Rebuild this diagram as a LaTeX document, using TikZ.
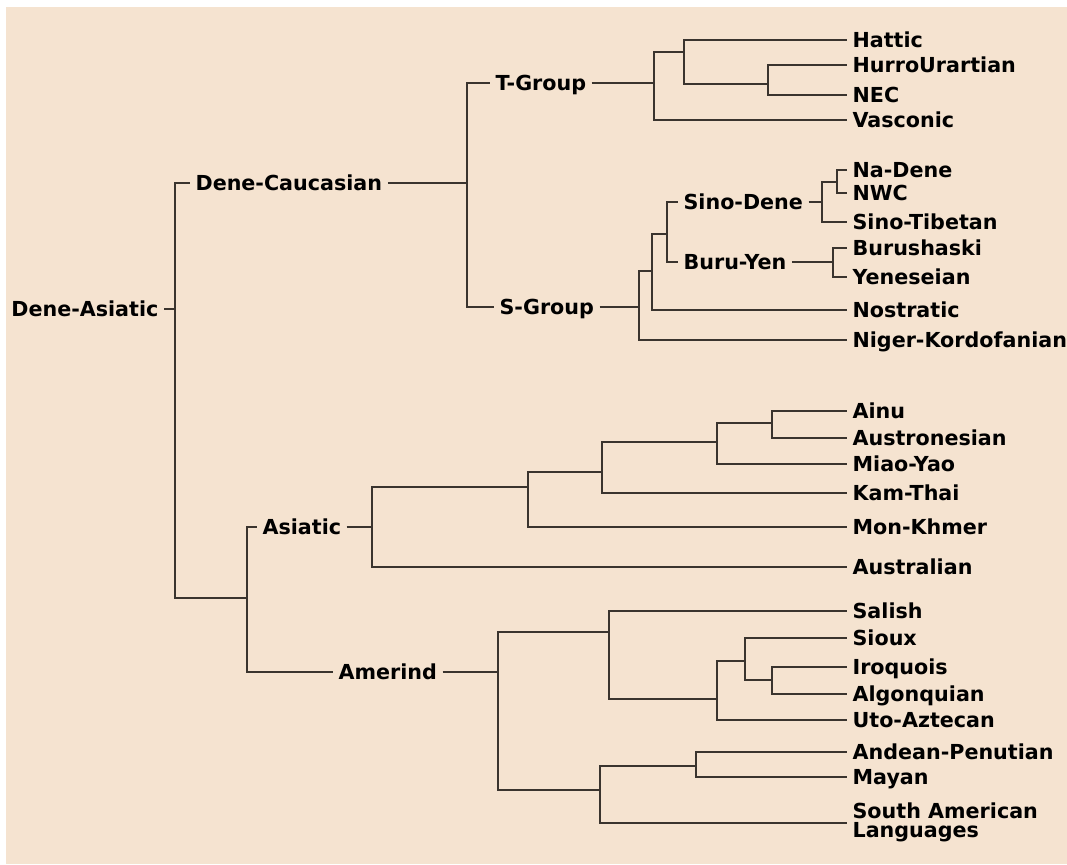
\documentclass[tikz,border=0pt]{standalone}
\usepackage{fontspec}
\setmainfont{DejaVu Sans}
\definecolor{paper}{RGB}{245,227,208}
\definecolor{ink}{RGB}{58,52,46}
\tikzset{
  namefont/.style={font=\bfseries\fontsize{15.5}{14.25}\selectfont},
  langname/.style={namefont, anchor=west, inner xsep=4pt, inner ysep=0pt, text height=11.3pt, text depth=0pt},
  twoline/.style={namefont, anchor=west, inner xsep=4pt, inner ysep=0pt, align=left},
  treeline/.style={draw=ink, line width=1.5pt}
}
\begin{document}
\begin{tikzpicture}[x=0.75pt, y=-0.75pt]
    \useasboundingbox (0,0) rectangle (1067,864);
    \fill[white] (0,0) rectangle (1067,864);
    \fill[paper] (6,7) rectangle (1067,864);

    % labelled groups and branch points
    \node[langname, anchor=east] (deneasiatic) at (164,309) {Dene-Asiatic};
    \coordinate (jroot) at (175,309);
    \node[langname] (denecauc) at (190,182.5) {Dene-Caucasian};
    \coordinate (jdc) at (467,182.5);
    \node[langname] (tgroup) at (490,83) {T-Group};
    \coordinate (jtg) at (654,83);
    \coordinate (jhat) at (684,51.5);
    \coordinate (jhu) at (768,83.5);
    \node[langname] (sgroup) at (494,307) {S-Group};
    \coordinate (jsg) at (639,307);
    \coordinate (jsd) at (652,270.5);
    \coordinate (jsb) at (667,234);
    \node[langname] (sinodene) at (678,202) {Sino-Dene};
    \coordinate (jsdn) at (822,202);
    \coordinate (jnn) at (836.5,181.5);
    \node[langname] (buruyen) at (678,262) {Buru-Yen};
    \coordinate (jby) at (833,262);
    \coordinate (jlow) at (247,598);
    \node[langname] (asiatic) at (257,526.5) {Asiatic};
    \coordinate (jas) at (372,526.5);
    \coordinate (jam) at (528,487);
    \coordinate (jkt) at (602,472);
    \coordinate (jmy) at (717,442);
    \coordinate (jai) at (772,423);
    \node[langname] (amerind) at (333,671.5) {Amerind};
    \coordinate (jamer) at (498,671.5);
    \coordinate (jup) at (609,631.5);
    \coordinate (jut) at (717,698.5);
    \coordinate (jsi) at (745,660.5);
    \coordinate (jia) at (772,680);
    \coordinate (jdn) at (600,789.5);
    \coordinate (jap) at (696,766);

    % languages
    \foreach \name/\y/\txt in {hattic/39.5/Hattic, hurro/64.5/HurroUrartian, nec/94.5/NEC, vasconic/120/Vasconic,
        nadene/169.5/Na-Dene, nwc/193/NWC, sinotib/221.5/Sino-Tibetan, burush/248/Burushaski,
        yenes/277/Yeneseian, nostratic/310/Nostratic, niger/340/Niger-Kordofanian,
        ainu/410.5/Ainu, austronesian/438/Austronesian, miaoyao/463.5/Miao-Yao, kamthai/493/Kam-Thai,
        monkhmer/527/Mon-Khmer, australian/566.5/Australian,
        salish/610.5/Salish, sioux/637.5/Sioux, iroquois/667/Iroquois, algonquian/694/Algonquian,
        utoaztecan/720/Uto-Aztecan, andean/751.5/Andean-Penutian, mayan/777/Mayan}
        \node[langname] (\name) at (847,\y) {\txt};
    \node[twoline] (southam) at (847,822.7) {South American\\Languages};

    % straight links through the group names
    \foreach \a/\b in {deneasiatic/jroot, denecauc/jdc, tgroup/jtg, sgroup/jsg, sinodene/jsdn,
        buruyen/jby, asiatic/jas, amerind/jamer}
        \draw[treeline] (\a.east) -- (\b);

    % elbow links
    \foreach \a/\b in {jroot/denecauc.west, jroot/jlow, jdc/tgroup.west, jdc/sgroup.west,
        jtg/jhat, jtg/vasconic.west, jhat/hattic.west, jhat/jhu, jhu/hurro.west, jhu/nec.west,
        jsg/jsd, jsg/niger.west, jsd/jsb, jsd/nostratic.west, jsb/sinodene.west, jsb/buruyen.west,
        jsdn/jnn, jsdn/sinotib.west, jnn/nadene.west, jnn/nwc.west, jby/burush.west, jby/yenes.west,
        jlow/asiatic.west, jlow/amerind.west, jas/jam, jas/australian.west, jam/jkt, jam/monkhmer.west,
        jkt/jmy, jkt/kamthai.west, jmy/jai, jmy/miaoyao.west, jai/ainu.west, jai/austronesian.west,
        jamer/jup, jamer/jdn, jup/salish.west, jup/jut, jut/jsi, jut/utoaztecan.west,
        jsi/sioux.west, jsi/jia, jia/iroquois.west, jia/algonquian.west,
        jdn/jap, jdn/southam.west, jap/andean.west, jap/mayan.west}
        \draw[treeline] (\a) |- (\b);
\end{tikzpicture}
\end{document}
